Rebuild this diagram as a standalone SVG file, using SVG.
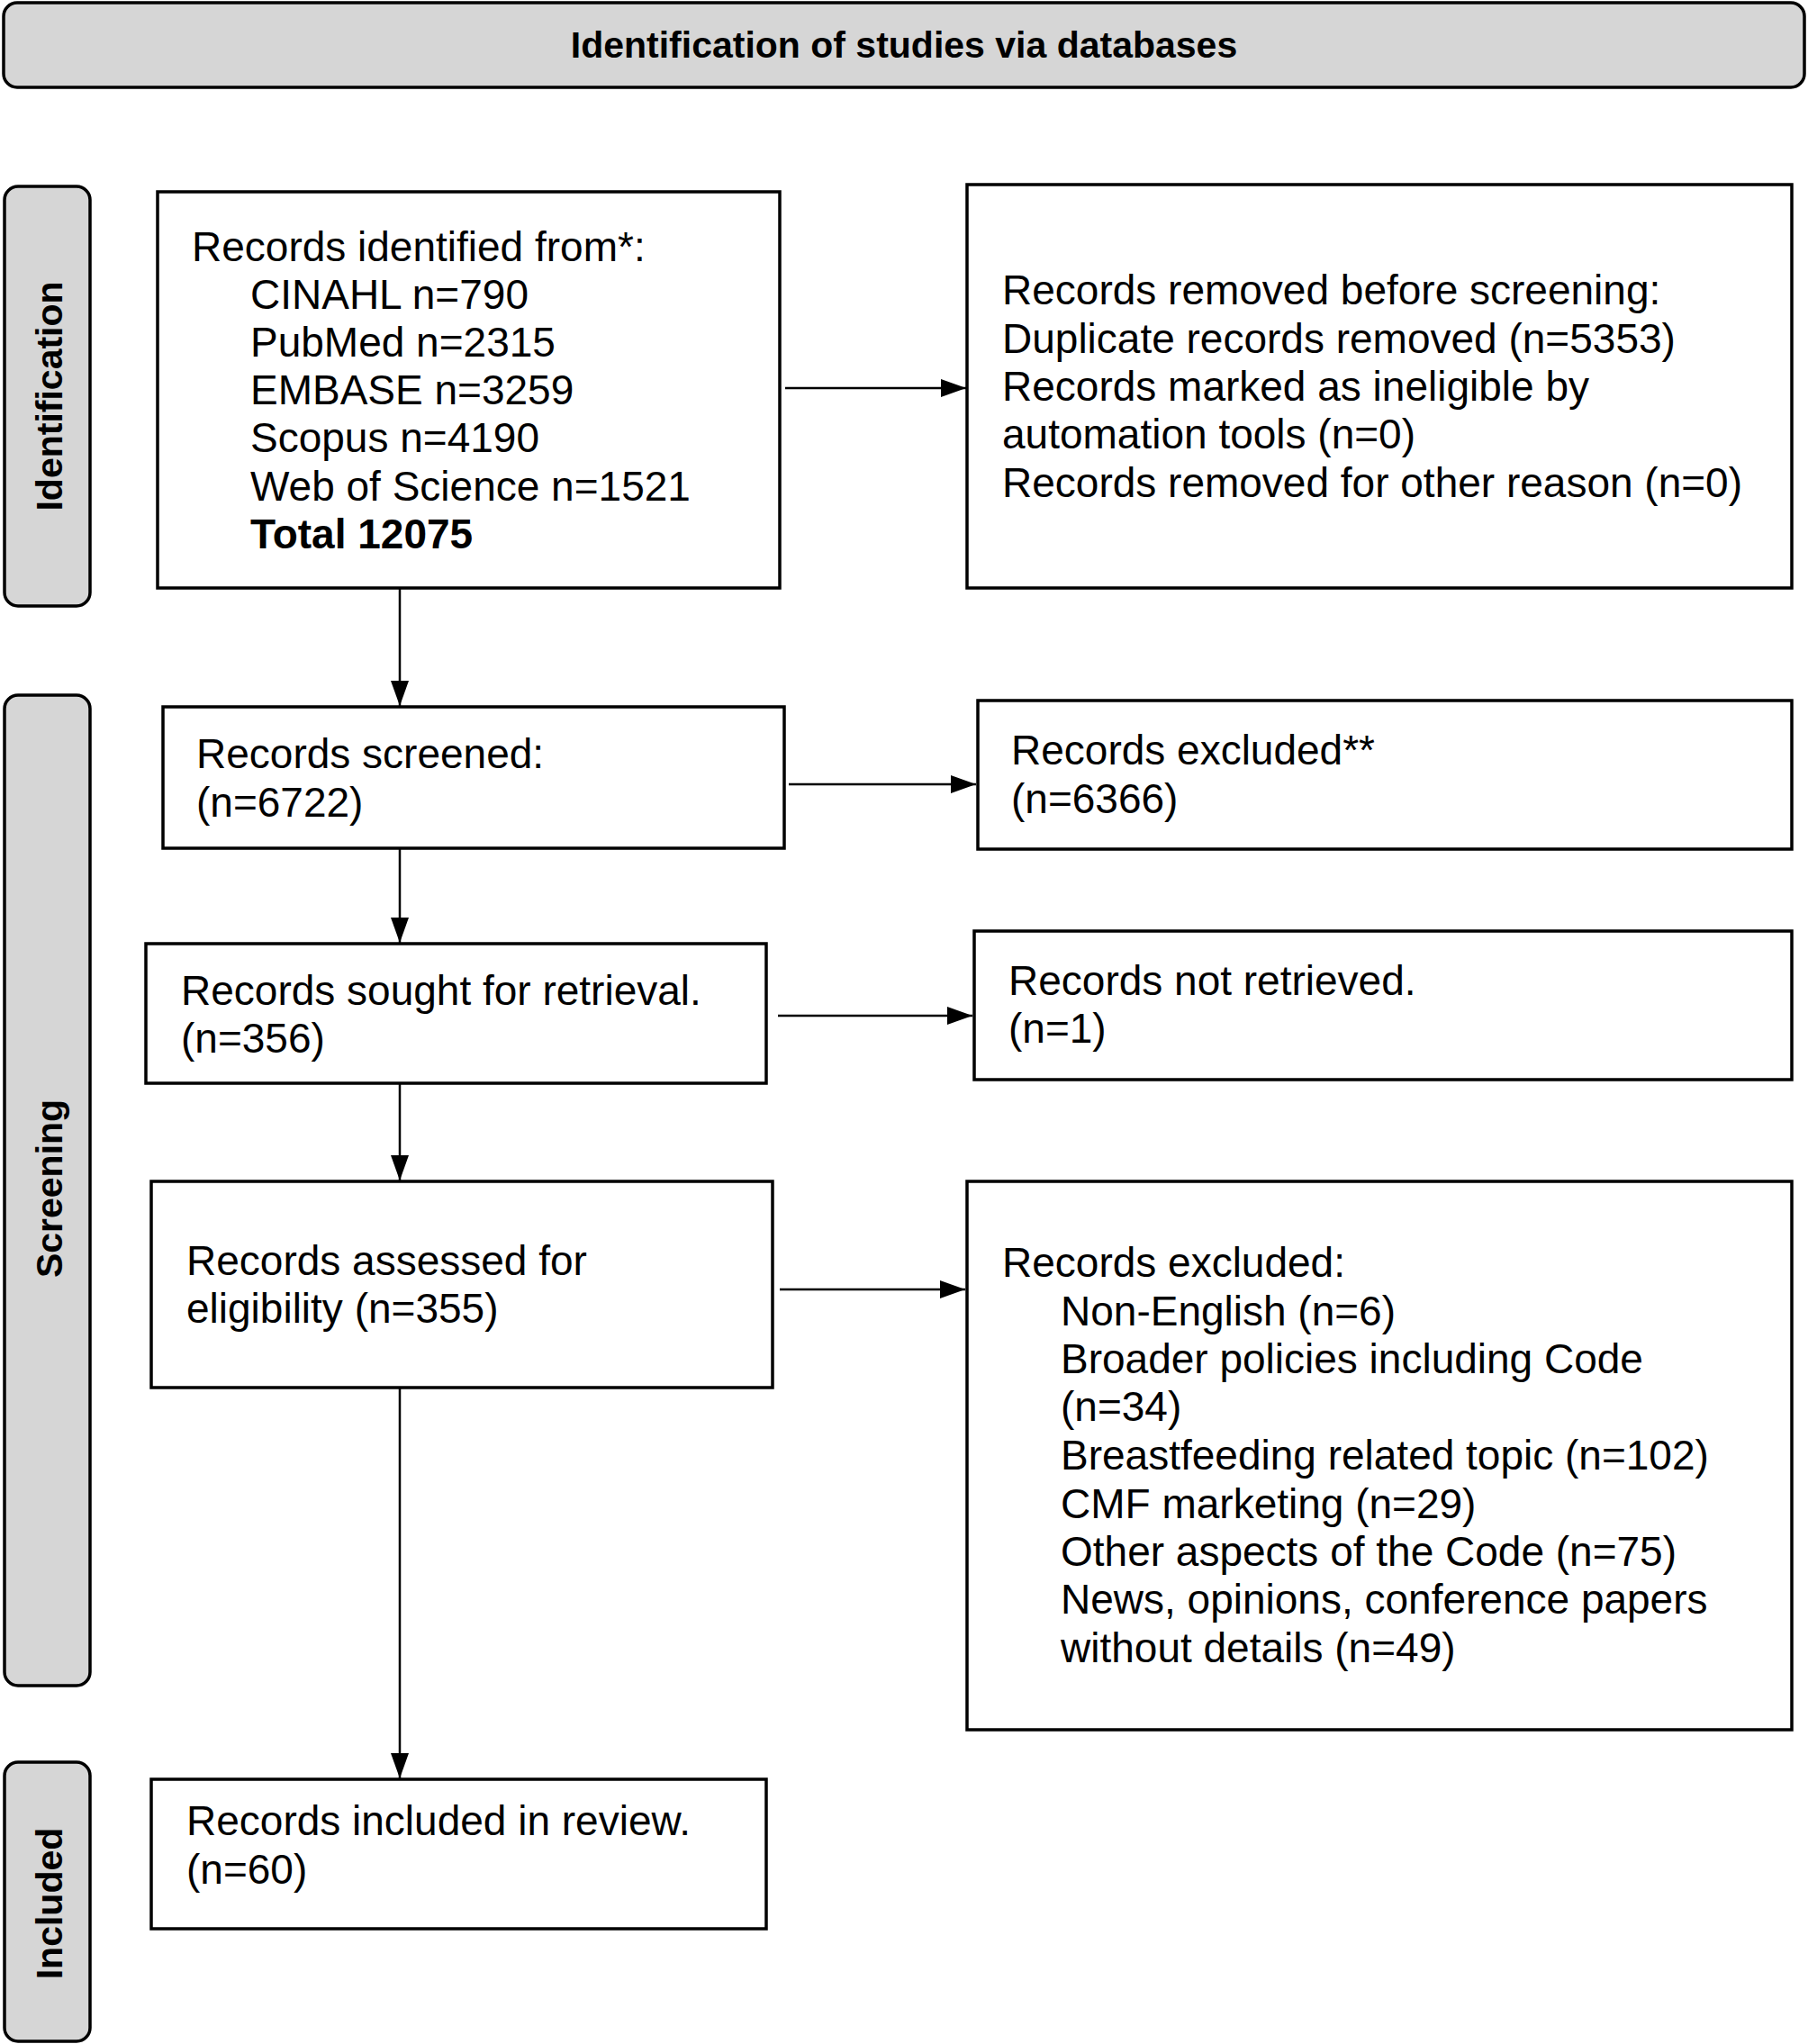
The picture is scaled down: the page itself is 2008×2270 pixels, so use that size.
<svg xmlns="http://www.w3.org/2000/svg" width="2008" height="2270" viewBox="0 0 2008 2270">
<defs>
<style>
.box{fill:#ffffff;stroke:#000000;stroke-width:3.5}
.lane{fill:#d6d6d6;stroke:#000000;stroke-width:3.5}
.t{font-family:"Liberation Sans",Arial,sans-serif;font-size:46px;fill:#000000}
.b{font-family:"Liberation Sans",Arial,sans-serif;font-size:41px;font-weight:bold;fill:#000000}
.c{fill:none;stroke:#000000;stroke-width:2.5}
</style>
<marker id="ah" markerWidth="28" markerHeight="20" refX="28" refY="10" orient="auto" markerUnits="userSpaceOnUse" viewBox="0 0 28 20">
<path d="M0,0 L28,10 L0,20 Z" fill="#000000"/>
</marker>
</defs>
<rect x="0" y="0" width="2008" height="2270" fill="#ffffff"/>

<g id="title">
<rect class="lane" x="4" y="3" width="2000" height="94" rx="15" ry="15"/>
<text class="b" x="1004" y="64" text-anchor="middle">Identification of studies via databases</text>
</g>

<g id="lane-identification">
<rect class="lane" x="5" y="207" width="95" height="466" rx="15" ry="15"/>
<text class="b" transform="translate(54,440) rotate(-90)" x="0" y="14.5" text-anchor="middle">Identification</text>
</g>
<g id="lane-screening">
<rect class="lane" x="5" y="772" width="95" height="1100" rx="15" ry="15"/>
<text class="b" transform="translate(54,1320) rotate(-90)" x="0" y="14.5" text-anchor="middle">Screening</text>
</g>
<g id="lane-included">
<rect class="lane" x="5" y="1957" width="95" height="310" rx="15" ry="15"/>
<text class="b" transform="translate(54,2114) rotate(-90)" x="0" y="14.5" text-anchor="middle">Included</text>
</g>

<g id="identified">
<rect class="box" x="175" y="213" width="691" height="440"/>
<text class="t" x="213" y="290">Records identified from*:</text>
<text class="t" x="278" y="343">CINAHL n=790</text>
<text class="t" x="278" y="396">PubMed n=2315</text>
<text class="t" x="278" y="449">EMBASE n=3259</text>
<text class="t" x="278" y="502">Scopus n=4190</text>
<text class="t" x="278" y="556">Web of Science n=1521</text>
<text class="t" x="278" y="609" font-weight="bold">Total 12075</text>
</g>

<g id="removed">
<rect class="box" x="1074" y="205" width="916" height="448"/>
<text class="t" x="1113" y="338">Records removed before screening:</text>
<text class="t" x="1113" y="392">Duplicate records removed (n=5353)</text>
<text class="t" x="1113" y="445">Records marked as ineligible by</text>
<text class="t" x="1113" y="498">automation tools (n=0)</text>
<text class="t" x="1113" y="552">Records removed for other reason (n=0)</text>
</g>

<g id="screened">
<rect class="box" x="181" y="785" width="690" height="157"/>
<text class="t" x="218" y="853">Records screened:</text>
<text class="t" x="218" y="907">(n=6722)</text>
</g>

<g id="excluded1">
<rect class="box" x="1086" y="778" width="904" height="165"/>
<text class="t" x="1123" y="849">Records excluded**</text>
<text class="t" x="1123" y="903">(n=6366)</text>
</g>

<g id="sought">
<rect class="box" x="162" y="1048" width="689" height="155"/>
<text class="t" x="201" y="1116">Records sought for retrieval.</text>
<text class="t" x="201" y="1169">(n=356)</text>
</g>

<g id="notretrieved">
<rect class="box" x="1082" y="1034" width="908" height="165"/>
<text class="t" x="1120" y="1105">Records not retrieved.</text>
<text class="t" x="1120" y="1158">(n=1)</text>
</g>

<g id="assessed">
<rect class="box" x="168" y="1312" width="690" height="229"/>
<text class="t" x="207" y="1416">Records assessed for</text>
<text class="t" x="207" y="1469">eligibility (n=355)</text>
</g>

<g id="excluded2">
<rect class="box" x="1074" y="1312" width="916" height="609"/>
<text class="t" x="1113" y="1418">Records excluded:</text>
<text class="t" x="1178" y="1472">Non-English (n=6)</text>
<text class="t" x="1178" y="1525">Broader policies including Code</text>
<text class="t" x="1178" y="1578">(n=34)</text>
<text class="t" x="1178" y="1632">Breastfeeding related topic (n=102)</text>
<text class="t" x="1178" y="1686">CMF marketing (n=29)</text>
<text class="t" x="1178" y="1739">Other aspects of the Code (n=75)</text>
<text class="t" x="1178" y="1792">News, opinions, conference papers</text>
<text class="t" x="1178" y="1846">without details (n=49)</text>
</g>

<g id="included">
<rect class="box" x="168" y="1976" width="683" height="166"/>
<text class="t" x="207" y="2038">Records included in review.</text>
<text class="t" x="207" y="2092">(n=60)</text>
</g>

<g id="connectors">
<line class="c" x1="872" y1="431" x2="1073" y2="431" marker-end="url(#ah)"/>
<line class="c" x1="444" y1="653" x2="444" y2="784" marker-end="url(#ah)"/>
<line class="c" x1="876" y1="871" x2="1084" y2="871" marker-end="url(#ah)"/>
<line class="c" x1="444" y1="943" x2="444" y2="1047" marker-end="url(#ah)"/>
<line class="c" x1="864" y1="1128" x2="1080" y2="1128" marker-end="url(#ah)"/>
<line class="c" x1="444" y1="1203" x2="444" y2="1311" marker-end="url(#ah)"/>
<line class="c" x1="866" y1="1432" x2="1072" y2="1432" marker-end="url(#ah)"/>
<line class="c" x1="444" y1="1541" x2="444" y2="1975" marker-end="url(#ah)"/>
</g>
</svg>
